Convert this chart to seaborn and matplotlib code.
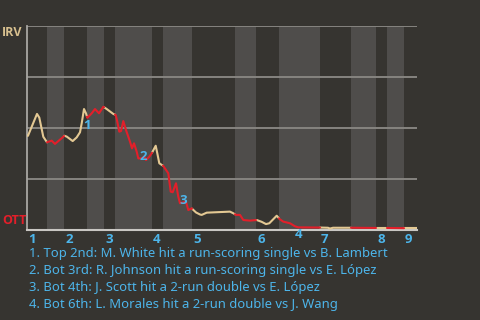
import numpy as np
import pandas as pd
import matplotlib
matplotlib.use("Agg")
import matplotlib.pyplot as plt
import seaborn as sns

# ---------------- data ----------------
# game progress (0..390) and IRV win probability
progress = [1.0, 10.0, 12.3, 16.3, 20.0, 24.7, 28.0, 34.7, 37.3, 39.7, 45.7, 49.7,
            53.0, 54.7, 57.0, 59.0, 60.3, 64.7, 68.0, 72.0, 76.3, 79.7, 86.3, 88.7,
            90.3, 92.3, 94.0, 96.3, 99.0, 103.0, 105.0, 107.0, 109.7, 111.3, 114.7,
            117.3, 119.0, 122.3, 124.7, 128.7, 130.3, 132.3, 136.3, 141.3, 143.7,
            145.7, 149.0, 151.3, 153.0, 159.0, 161.3, 164.7, 169.0, 173.0, 174.7,
            179.7, 203.0, 206.3, 209.0, 213.0, 216.3, 223.0, 229.7, 234.7, 239.0,
            242.3, 249.7, 253.0, 256.3, 263.0, 268.0, 271.3, 293.0, 301.0, 303.0,
            306.0, 324.0, 349.0, 360.0, 377.0, 390.0]
irv_wp = [.462, .569, .551, .457, .430, .438, .422, .450, .462, .458, .436, .454,
          .479, .523, .593, .572, .550, .572, .593, .572, .604, .593, .569, .564,
          .531, .482, .485, .534, .490, .433, .400, .425, .384, .351, .351,
          .359, .343, .359, .376, .413, .376, .327, .314, .278, .188,
          .185, .229, .163, .131, .139, .098, .106, .086, .076, .074,
          .085, .090, .082, .074, .074, .049, .046, .049, .040, .029,
          .033, .070, .052, .041, .033, .018, .013, .012, .011, .007,
          .011, .011, .010, .010, .009, .009]

# start of each half inning (top 1, bot 1, top 2, ...) and game end
half_starts = [0, 20, 37, 60, 77, 88, 125, 136, 165, 208, 229, 252, 293, 324, 349, 360, 377]
game_end = 390
inning_labels = ["1", "2", "3", "4", "5", "6", "7", "8", "9"]

teams = ["IRV", "OTT"]

annot_ids = ["1", "2", "3", "4"]
annot_x = [60, 116, 156, 272]
annot_dy_px = [-9, 1.5, 1.5, -7]
annot_text = [
    "1. Top 2nd: M. White hit a run-scoring single vs B. Lambert",
    "2. Bot 3rd: R. Johnson hit a run-scoring single vs E. López",
    "3. Bot 4th: J. Scott hit a 2-run double vs E. López",
    "4. Bot 6th: L. Morales hit a 2-run double vs J. Wang",
]

# ---------------- styles ----------------
BG = "#363430"
BAND = "#4f4d4b"
GRID = "#868480"
TAN = "#e3c893"
RED = "#e21f2a"
BLUE = "#4db5ea"
BOLD_FONT = ["Open Sans", "DejaVu Sans"]

sns.set_theme(style="dark")
plt.rcParams["font.family"] = ["Noto Sans", "DejaVu Sans"]

fig = plt.figure(figsize=(4.8, 3.2), dpi=100, facecolor=BG)
ax = fig.add_axes([27 / 480, 90 / 320, 390 / 480, 204 / 320])
ax.set_facecolor(BG)

# build segments per half inning
px = np.array(progress)
py = np.array(irv_wp)
bounds = half_starts + [game_end]
rows = []
for i in range(len(half_starts)):
    a, b = bounds[i], bounds[i + 1]
    xs = [a] + [x for x in px if a < x < b] + [b]
    for x in xs:
        rows.append({"progress": x, "wp": float(np.interp(x, px, py)),
                     "half": i, "team": teams[i % 2]})
    if i % 2 == 1:
        ax.axvspan(a, b, color=BAND, lw=0, zorder=0)
df = pd.DataFrame(rows)

for v in [0.25, 0.5, 0.75, 1.0]:
    ax.axhline(v, color=GRID, lw=1.4, zorder=1)

sns.lineplot(data=df, x="progress", y="wp", hue="team", units="half",
             estimator=None, palette={"IRV": TAN, "OTT": RED},
             lw=1.5, legend=False, ax=ax, zorder=3)

ax.set_xlim(0, game_end)
ax.set_ylim(0, 1)
ax.set_xticks([])
ax.set_yticks([])
ax.set_xlabel("")
ax.set_ylabel("")
for s in ["top", "right"]:
    ax.spines[s].set_visible(False)
ax.spines["left"].set_color("#a9a7a3")
ax.spines["left"].set_linewidth(1.3)
ax.spines["bottom"].set_color("#c9c7c3")
ax.spines["bottom"].set_linewidth(1.5)
ax.spines["left"].set_zorder(2)
ax.spines["bottom"].set_zorder(2)

# team labels
fig.text(2 / 480, 1 - 33 / 320, teams[0], color="#d8c08f", fontsize=9,
         fontweight="bold", family=BOLD_FONT, ha="left", va="center")
fig.text(2 / 480, 1 - 220 / 320, teams[1], color=RED, fontsize=9,
         fontweight="bold", family=BOLD_FONT, ha="left", va="center")

# inning labels
for lab, st in zip(inning_labels, half_starts[::2]):
    ax.annotate(lab, (st, 0), xytext=(0.8, -7), textcoords="offset points",
                ha="left", va="center", color=BLUE, fontsize=9.5, fontweight="bold",
                family=BOLD_FONT, annotation_clip=False)

# event annotations
for lab, x, dy in zip(annot_ids, annot_x, annot_dy_px):
    y = float(np.interp(x, px, py))
    ax.annotate(lab, (x, y), xytext=(0, dy * 0.72), textcoords="offset points",
                ha="center", va="center", color=BLUE, fontsize=9.5, fontweight="bold",
                family=BOLD_FONT, annotation_clip=False, zorder=5)

for i, t in enumerate(annot_text):
    fig.text(29 / 480, 1 - (254 + 16.7 * i) / 320, t, color=BLUE, fontsize=9.4,
             ha="left", va="center")

fig.savefig("out.png", dpi=100, facecolor=BG)
